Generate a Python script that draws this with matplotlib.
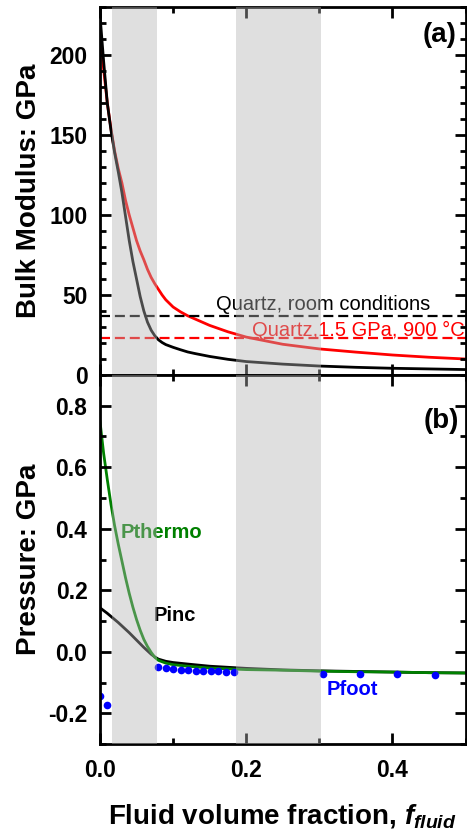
import matplotlib.pyplot as plt
from matplotlib.ticker import MultipleLocator, FormatStrFormatter

plt.rcParams['font.family'] = ['Liberation Sans', 'DejaVu Sans']
plt.rcParams['axes.unicode_minus'] = False
plt.rcParams['mathtext.fontset'] = 'custom'
plt.rcParams['mathtext.it'] = 'Liberation Sans:italic:bold'
plt.rcParams['mathtext.rm'] = 'Liberation Sans:bold'
plt.rcParams['mathtext.bf'] = 'Liberation Sans:bold'

# bulk modulus curves (panel a)
f_k = [0, 0.005, 0.01, 0.015, 0.02, 0.025, 0.03, 0.035, 0.04, 0.045, 0.05, 0.055,
       0.06, 0.065, 0.07, 0.075, 0.08, 0.085, 0.09, 0.1, 0.11, 0.12, 0.13, 0.15,
       0.175, 0.2, 0.25, 0.3, 0.35, 0.4, 0.45, 0.5]
k_room = [225, 196, 170, 153, 139, 127, 114, 99, 84, 71, 60, 49,
          40, 33, 28, 24.5, 22, 20.3, 19, 17.3, 15.8, 14.4, 13.4, 11.6,
          9.8, 8.4, 6.8, 5.6, 4.8, 4.2, 3.8, 3.4]
k_hot = [216, 191, 170, 154, 140, 129, 120, 109, 100, 92, 84, 77.5,
         72, 66, 61, 57, 53.5, 50, 47, 42.5, 39.5, 37, 35, 31,
         27, 23.7, 19.2, 16.3, 14.3, 12.5, 11.1, 10]
k_quartz_room = 37
k_quartz_hot = 23.3

# pressure curves (panel b)
f_p = [0, 0.005, 0.01, 0.015, 0.02, 0.025, 0.03, 0.035, 0.04, 0.045, 0.05, 0.055,
       0.06, 0.065, 0.07, 0.075, 0.08, 0.09, 0.1, 0.12, 0.15, 0.2, 0.25, 0.3,
       0.35, 0.4, 0.45, 0.5]
p_thermo = [0.749, 0.645, 0.56, 0.48, 0.41, 0.35, 0.295, 0.24, 0.19, 0.145, 0.105, 0.07,
            0.04, 0.017, -0.002, -0.018, -0.028, -0.037, -0.042, -0.047, -0.053, -0.058,
            -0.060, -0.063, -0.065, -0.066, -0.068, -0.069]
p_inc = [0.143, 0.134, 0.125, 0.115, 0.105, 0.095, 0.084, 0.073, 0.062, 0.05, 0.038, 0.026,
         0.014, 0.003, -0.008, -0.017, -0.024, -0.031, -0.035, -0.040, -0.047, -0.054,
         -0.059, -0.062, -0.064, -0.066, -0.068, -0.069]
f_foot = [0, 0.01, 0.0794, 0.0898, 0.0997, 0.1102, 0.1207, 0.131, 0.1415, 0.1514,
          0.1619, 0.1724, 0.1827, 0.305, 0.356, 0.406, 0.458]
p_foot = [-0.143, -0.172, -0.051, -0.054, -0.056, -0.059, -0.060, -0.061, -0.062, -0.063,
          -0.064, -0.065, -0.067, -0.071, -0.072, -0.073, -0.074]

# shaded fluid fraction ranges
bands = [(0.016, 0.078), (0.186, 0.302)]

fig = plt.figure(figsize=(4.67, 8.3), dpi=100)
ax1 = fig.add_axes([0.2141, 0.5482, 0.7827, 0.4434])
ax2 = fig.add_axes([0.2141, 0.1036, 0.7827, 0.4446])

# panel a
ax1.plot(f_k, k_hot, color='red', lw=2)
ax1.plot(f_k, k_room, color='black', lw=2)
ax1.axhline(k_quartz_room, color='black', lw=1.6, ls=(0, (4.5, 2.2)))
ax1.axhline(k_quartz_hot, color='red', lw=1.6, ls=(0, (4.5, 2.2)))
ax1.text(0.159, 40.6, 'Quartz, room conditions', fontsize=14.5, color='black')
ax1.text(0.208, 24.6, 'Quartz,1.5 GPa, 900 \u00b0C', fontsize=14.5, color='red')
ax1.text(0.975, 0.958, '(a)', transform=ax1.transAxes, ha='right', va='top',
         fontsize=20, fontweight='bold')
ax1.set_ylim(0, 230)
ax1.yaxis.set_major_locator(MultipleLocator(50))
ax1.yaxis.set_minor_locator(MultipleLocator(10))
ax1.set_ylabel('Bulk Modulus: GPa', fontsize=20, fontweight='bold')

# panel b
ax2.plot(f_p, p_inc, color='black', lw=2)
ax2.plot(f_p, p_thermo, color='green', lw=2)
ax2.plot(f_foot, p_foot, 'o', color='blue', ms=5.5, mec='none')
ax2.text(0.0286, 0.387, 'Pthermo', fontsize=14.5, fontweight='bold', color='green', va='center')
ax2.text(0.0735, 0.117, 'Pinc', fontsize=14.5, fontweight='bold', color='black', va='center')
ax2.text(0.310, -0.122, 'Pfoot', fontsize=14.5, fontweight='bold', color='blue', va='center')
ax2.text(0.983, 0.91, '(b)', transform=ax2.transAxes, ha='right', va='top',
         fontsize=20, fontweight='bold')
ax2.set_ylim(-0.3, 0.9)
ax2.yaxis.set_major_locator(MultipleLocator(0.2))
ax2.yaxis.set_minor_locator(MultipleLocator(0.1))
ax2.yaxis.set_major_formatter(FormatStrFormatter('%.1f'))
ax2.set_ylabel('Pressure: GPa', fontsize=20, fontweight='bold')
ax2.set_xlabel('Fluid volume fraction, $f_{fluid}$', fontsize=20, fontweight='bold', labelpad=14)

for ax in (ax1, ax2):
    ax.set_axisbelow(False)
    ax.set_xlim(0, 0.5)
    ax.xaxis.set_major_locator(MultipleLocator(0.2))
    ax.xaxis.set_minor_locator(MultipleLocator(0.1))
    ax.xaxis.set_major_formatter(FormatStrFormatter('%.1f'))
    ax.tick_params(which='both', direction='in', top=True, right=True, width=2, color='black')
    ax.tick_params(which='major', length=8, labelsize=16.5, pad=9)
    ax.tick_params(which='minor', length=4.5)
    ax.tick_params(axis='x', which='major', pad=11)
    for lab in ax.get_xticklabels() + ax.get_yticklabels():
        lab.set_fontweight('bold')
    for sp in ax.spines.values():
        sp.set_linewidth(2)
    for lo, hi in bands:
        ax.axvspan(lo, hi, color=(0.7, 0.7, 0.7), alpha=0.42, lw=0, zorder=10)
    ax.yaxis.set_label_coords(-0.16, 0.5)

ax1.tick_params(axis='x', labelbottom=False)

fig.savefig('out.png', dpi=100)
